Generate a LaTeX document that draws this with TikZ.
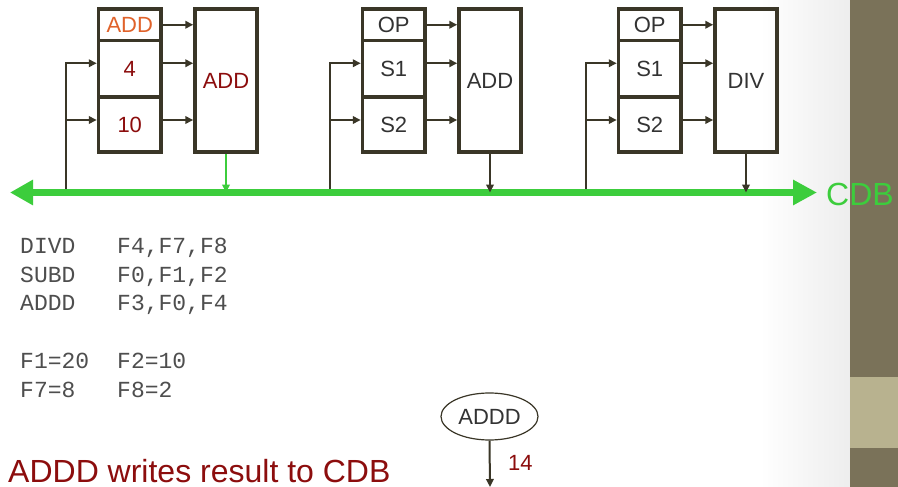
\documentclass[tikz,border=0pt]{standalone}
\usepackage{fontspec}
\setmainfont{Liberation Sans}
\newfontfamily\codefont{Liberation Mono}
\usetikzlibrary{arrows.meta,shapes.geometric}
\definecolor{dk}{HTML}{3A3627}
\definecolor{bus}{HTML}{3CCD3C}
\definecolor{dred}{HTML}{8C0D0D}
\definecolor{orng}{HTML}{E0622A}
\definecolor{side}{HTML}{7A7259}
\definecolor{sidelt}{HTML}{B8B28F}
\definecolor{codec}{HTML}{4E4E4E}
\definecolor{txt}{HTML}{333333}
\tikzset{
  box/.style={draw=dk, line width=3.5pt, rectangle, inner sep=0pt, text=txt,
    font=\fontsize{22}{26}\selectfont},
  arr/.style={draw=dk, line width=2pt, -{Triangle[length=8pt,width=7.5pt]}},
  garr/.style={draw=bus, line width=2pt, -{Triangle[length=8pt,width=7.5pt]}},
  busline/.style={draw=bus, line width=7pt,
    {Triangle[length=23pt,width=24pt]}-{Triangle[length=24pt,width=24pt]}},
  code/.style={anchor=base west, inner sep=0pt, text=codec,
    font=\codefont\fontsize{23}{28}\selectfont}
}
\begin{document}
\begin{tikzpicture}[x=1pt,y=-1pt]
\useasboundingbox (0,0) rectangle (898,487);
\fill[white] (0,0) rectangle (898,487);
\shade[left color=white,right color=black!7] (760,0) rectangle (850,487);
\fill[side] (850,0) rectangle (898,487);
\fill[sidelt] (850,377) rectangle (898,448);

% ---------- unit 1 ----------
\node[box, minimum width=62.5pt, minimum height=31.5pt, text=orng] (op1) at (129.75,24.75) {ADD};
\node[box, minimum width=62.5pt, minimum height=56.5pt, text=dred] (sa1) at (129.75,68.75) {4};
\node[box, minimum width=62.5pt, minimum height=55pt, text=dred] (sb1) at (129.75,124.5) {10};
\node[box, minimum width=62pt, minimum height=143pt, text=dred] (fu1) at (226,80.5) {ADD};
% ---------- unit 2 ----------
\node[box, minimum width=62.5pt, minimum height=31.5pt] (op2) at (393.75,24.75) {OP};
\node[box, minimum width=62.5pt, minimum height=56.5pt] (sa2) at (393.75,68.75) {S1};
\node[box, minimum width=62.5pt, minimum height=55pt] (sb2) at (393.75,124.5) {S2};
\node[box, minimum width=62pt, minimum height=143pt] (fu2) at (490,80.5) {ADD};
% ---------- unit 3 ----------
\node[box, minimum width=62.5pt, minimum height=31.5pt] (op3) at (649.75,24.75) {OP};
\node[box, minimum width=62.5pt, minimum height=56.5pt] (sa3) at (649.75,68.75) {S1};
\node[box, minimum width=62.5pt, minimum height=55pt] (sb3) at (649.75,124.5) {S2};
\node[box, minimum width=62pt, minimum height=143pt] (fu3) at (746,80.5) {DIV};

% bus
\coordinate (busL) at (10,192.5);
\coordinate (busR) at (817,192.5);
\coordinate (f1) at (66,192.5);
\coordinate (f2) at (330,192.5);
\coordinate (f3) at (586,192.5);

\foreach \i in {1,2,3}{
  \draw[arr] (op\i.east) -- (op\i.east -| fu\i.west);
  \draw[arr] ([yshift=5.5pt]sa\i.east) -- ([yshift=5.5pt]sa\i.east -| fu\i.west);
  \draw[arr] ([yshift=4.5pt]sb\i.east) -- ([yshift=4.5pt]sb\i.east -| fu\i.west);
  \draw[arr] (f\i) |- ([yshift=5.5pt]sa\i.west);
  \draw[arr] (f\i) |- ([yshift=4.5pt]sb\i.west);
}

\draw[busline] (busL) -- (busR);
\draw[garr] (fu1.south) -- (fu1.south |- busL);
\draw[arr] (fu2.south) -- (fu2.south |- busL);
\draw[arr] (fu3.south) -- (fu3.south |- busL);
\node[anchor=base west, inner sep=0pt, text=bus, font=\fontsize{32}{36}\selectfont] (cdb) at (826,205) {CDB};

% code
\node[code] (c1a) at (20,253.5) {DIVD};
\node[code] (c1b) at (117,253.5) {F4,F7,F8};
\node[code] (c2a) at (20,282.2) {SUBD};
\node[code] (c2b) at (117,282.2) {F0,F1,F2};
\node[code] (c3a) at (20,310.9) {ADDD};
\node[code] (c3b) at (117,310.9) {F3,F0,F4};
\node[code] (c4a) at (20,368.3) {F1=20};
\node[code] (c4b) at (117,368.3) {F2=10};
\node[code] (c5a) at (20,397) {F7=8};
\node[code] (c5b) at (117,397) {F8=2};

% ADDD ellipse
\node[draw=dk, line width=1.2pt, ellipse, minimum width=97pt, minimum height=47pt, inner sep=0pt,
  text=txt, font=\fontsize{22}{26}\selectfont] (eA) at (489.5,416.5) {ADDD};
\coordinate (eEnd) at (490,487);
\draw[arr] (eA.south) -- (eEnd);
\node[anchor=base west, inner sep=0pt, text=dred, font=\fontsize{22}{26}\selectfont] (v14) at (508,470) {14};

\node[anchor=base west, inner sep=0pt, text=dred, font=\fontsize{32}{36}\selectfont] (msg) at (8,482) {ADDD writes result to CDB};
\end{tikzpicture}
\end{document}
